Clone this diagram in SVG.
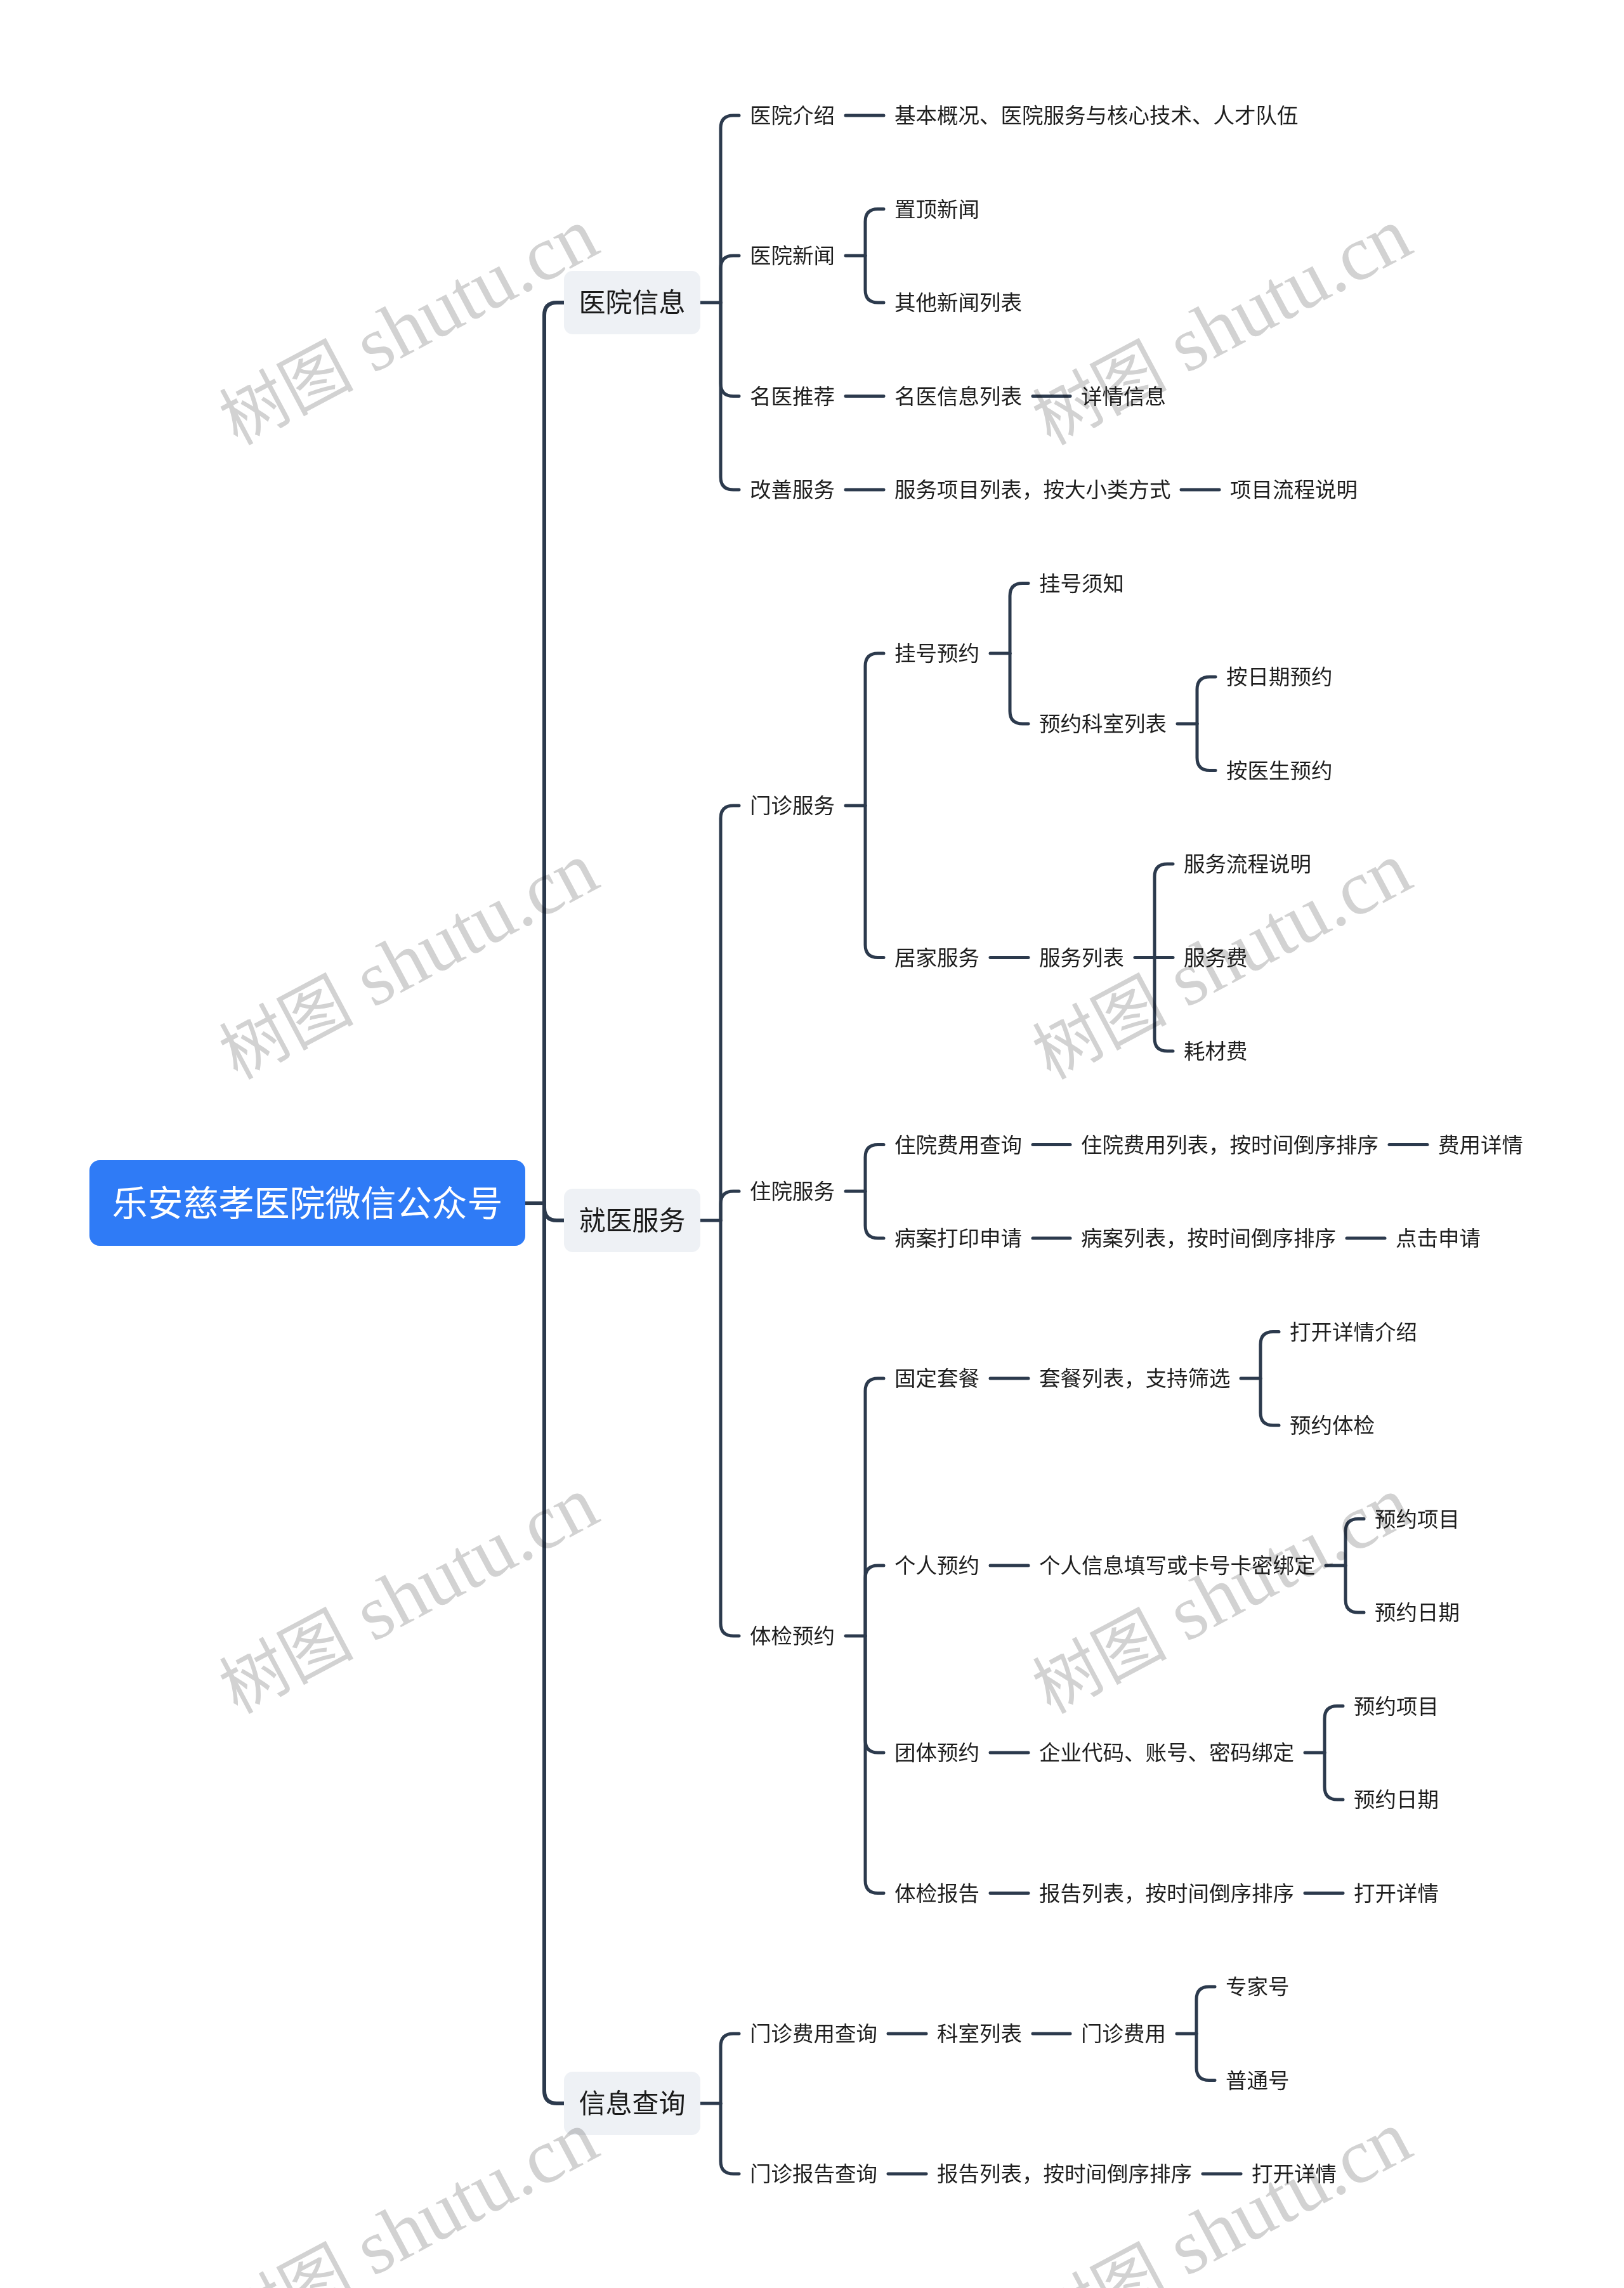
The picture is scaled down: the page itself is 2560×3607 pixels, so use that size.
<svg xmlns="http://www.w3.org/2000/svg" width="2560" height="3607" viewBox="0 0 2560 3607">
<style>
.c{fill:none;stroke:#2c3a4d;stroke-width:5;stroke-linecap:round;stroke-linejoin:round}
.c0{fill:none;stroke:#2c3a4d;stroke-width:6;stroke-linecap:round;stroke-linejoin:round}
.t{font-family:"Noto Sans CJK SC","Noto Sans",sans-serif;font-size:33.5px;fill:#1e1e1e}
.t1{font-family:"Noto Sans CJK SC","Noto Sans",sans-serif;font-size:42px;fill:#1a1a1a;text-anchor:middle}
.t0{font-family:"Noto Sans CJK SC","Noto Sans",sans-serif;font-size:56px;fill:#ffffff;text-anchor:middle}
.n1{fill:#eef1f5}
.wm{font-family:"Liberation Serif","Noto Sans CJK SC",serif;font-size:122px;fill:#d2d2d2;text-anchor:middle;mix-blend-mode:multiply}
.wc{font-family:"Noto Sans CJK SC",serif;font-size:106px}
</style>
<rect x="0" y="0" width="2560" height="3607" fill="#ffffff"/>
<g id="connectors">
<path class="c0" d="M828 1897 H858"/>
<path class="c0" d="M858 1897 V497 Q858 477 878 477 H889"/>
<path class="c0" d="M858 1897 V1904 Q858 1924 878 1924 H889"/>
<path class="c0" d="M858 1897 V3296 Q858 3316 878 3316 H889"/>
<path class="c" d="M1104 477 H1136"/>
<path class="c" d="M1136 477 V202 Q1136 182 1156 182 H1165"/>
<path class="c" d="M1136 477 V423 Q1136 403 1156 403 H1165"/>
<path class="c" d="M1136 477 V604.5 Q1136 624.5 1156 624.5 H1165"/>
<path class="c" d="M1136 477 V752 Q1136 772 1156 772 H1165"/>
<path class="c" d="M1333 182 H1393"/>
<path class="c" d="M1333 403 H1364"/>
<path class="c" d="M1364 403 V349.5 Q1364 329.5 1384 329.5 H1393"/>
<path class="c" d="M1364 403 V457 Q1364 477 1384 477 H1393"/>
<path class="c" d="M1333 624.5 H1393"/>
<path class="c" d="M1628 624.5 H1687"/>
<path class="c" d="M1333 772 H1393"/>
<path class="c" d="M1862 772 H1922"/>
<path class="c" d="M1104 1924 H1136"/>
<path class="c" d="M1136 1924 V1290 Q1136 1270 1156 1270 H1165"/>
<path class="c" d="M1136 1924 V1898 Q1136 1878 1156 1878 H1165"/>
<path class="c" d="M1136 1924 V2559 Q1136 2579 1156 2579 H1165"/>
<path class="c" d="M1333 1270 H1364"/>
<path class="c" d="M1364 1270 V1050 Q1364 1030 1384 1030 H1393"/>
<path class="c" d="M1364 1270 V1489.5 Q1364 1509.5 1384 1509.5 H1393"/>
<path class="c" d="M1561 1030 H1592"/>
<path class="c" d="M1592 1030 V939.5 Q1592 919.5 1612 919.5 H1621"/>
<path class="c" d="M1592 1030 V1121 Q1592 1141 1612 1141 H1621"/>
<path class="c" d="M1856 1141 H1887"/>
<path class="c" d="M1887 1141 V1087 Q1887 1067 1907 1067 H1916"/>
<path class="c" d="M1887 1141 V1194.5 Q1887 1214.5 1907 1214.5 H1916"/>
<path class="c" d="M1561 1509.5 H1621"/>
<path class="c" d="M1789 1509.5 H1849"/>
<path class="c" d="M1820 1509.5 V1382 Q1820 1362 1840 1362 H1849"/>
<path class="c" d="M1820 1509.5 V1637 Q1820 1657 1840 1657 H1849"/>
<path class="c" d="M1333 1878 H1364"/>
<path class="c" d="M1364 1878 V1824.5 Q1364 1804.5 1384 1804.5 H1393"/>
<path class="c" d="M1364 1878 V1932 Q1364 1952 1384 1952 H1393"/>
<path class="c" d="M1628 1804.5 H1687"/>
<path class="c" d="M2190 1804.5 H2250"/>
<path class="c" d="M1628 1952 H1687"/>
<path class="c" d="M2123 1952 H2183"/>
<path class="c" d="M1333 2579 H1364"/>
<path class="c" d="M1364 2579 V2193 Q1364 2173 1384 2173 H1393"/>
<path class="c" d="M1364 2579 V2488 Q1364 2468 1384 2468 H1393"/>
<path class="c" d="M1364 2579 V2743 Q1364 2763 1384 2763 H1393"/>
<path class="c" d="M1364 2579 V2964.5 Q1364 2984.5 1384 2984.5 H1393"/>
<path class="c" d="M1561 2173 H1621"/>
<path class="c" d="M1956 2173 H1987"/>
<path class="c" d="M1987 2173 V2119.5 Q1987 2099.5 2007 2099.5 H2016"/>
<path class="c" d="M1987 2173 V2227 Q1987 2247 2007 2247 H2016"/>
<path class="c" d="M1561 2468 H1621"/>
<path class="c" d="M2090 2468 H2121"/>
<path class="c" d="M2121 2468 V2414.5 Q2121 2394.5 2141 2394.5 H2150"/>
<path class="c" d="M2121 2468 V2522 Q2121 2542 2141 2542 H2150"/>
<path class="c" d="M1561 2763 H1621"/>
<path class="c" d="M2057 2763 H2088"/>
<path class="c" d="M2088 2763 V2709.5 Q2088 2689.5 2108 2689.5 H2117"/>
<path class="c" d="M2088 2763 V2817 Q2088 2837 2108 2837 H2117"/>
<path class="c" d="M1561 2984.5 H1621"/>
<path class="c" d="M2057 2984.5 H2117"/>
<path class="c" d="M1104 3316 H1136"/>
<path class="c" d="M1136 3316 V3226 Q1136 3206 1156 3206 H1165"/>
<path class="c" d="M1136 3316 V3407 Q1136 3427 1156 3427 H1165"/>
<path class="c" d="M1400 3206 H1460"/>
<path class="c" d="M1628 3206 H1687"/>
<path class="c" d="M1855 3206 H1886"/>
<path class="c" d="M1886 3206 V3152 Q1886 3132 1906 3132 H1915"/>
<path class="c" d="M1886 3206 V3259.5 Q1886 3279.5 1906 3279.5 H1915"/>
<path class="c" d="M1400 3427 H1460"/>
<path class="c" d="M1896 3427 H1956"/>
</g>
<g id="root"><rect x="141" y="1829" width="687" height="135" rx="16" fill="#2f7bf6"/><text class="t0" x="484.5" y="1917">乐安慈孝医院微信公众号</text></g>
<g id="n-yyxx"><rect class="n1" x="889" y="427" width="215" height="100" rx="14"/><text class="t1" x="996.5" y="492">医院信息</text></g>
<g id="n-jyfw"><rect class="n1" x="889" y="1874" width="215" height="100" rx="14"/><text class="t1" x="996.5" y="1939">就医服务</text></g>
<g id="n-xxcx"><rect class="n1" x="889" y="3266" width="215" height="100" rx="14"/><text class="t1" x="996.5" y="3331">信息查询</text></g>
<g id="n-yyjs"><text class="t" x="1182" y="194">医院介绍</text></g>
<g id="n-jbgk"><text class="t" x="1410" y="194">基本概况、医院服务与核心技术、人才队伍</text></g>
<g id="n-yyxw"><text class="t" x="1182" y="415">医院新闻</text></g>
<g id="n-zdxw"><text class="t" x="1410" y="341.5">置顶新闻</text></g>
<g id="n-qtxw"><text class="t" x="1410" y="489">其他新闻列表</text></g>
<g id="n-mytj"><text class="t" x="1182" y="636.5">名医推荐</text></g>
<g id="n-myxx"><text class="t" x="1410" y="636.5">名医信息列表</text></g>
<g id="n-xqxx"><text class="t" x="1704" y="636.5">详情信息</text></g>
<g id="n-gsfw"><text class="t" x="1182" y="784">改善服务</text></g>
<g id="n-fwxm"><text class="t" x="1410" y="784">服务项目列表，按大小类方式</text></g>
<g id="n-xmlc"><text class="t" x="1939" y="784">项目流程说明</text></g>
<g id="n-mzfw"><text class="t" x="1182" y="1282">门诊服务</text></g>
<g id="n-ghyy"><text class="t" x="1410" y="1042">挂号预约</text></g>
<g id="n-ghxz"><text class="t" x="1638" y="931.5">挂号须知</text></g>
<g id="n-yyks"><text class="t" x="1638" y="1153">预约科室列表</text></g>
<g id="n-arq"><text class="t" x="1933" y="1079">按日期预约</text></g>
<g id="n-ays"><text class="t" x="1933" y="1226.5">按医生预约</text></g>
<g id="n-jjfw"><text class="t" x="1410" y="1521.5">居家服务</text></g>
<g id="n-fwlb"><text class="t" x="1638" y="1521.5">服务列表</text></g>
<g id="n-fwlc"><text class="t" x="1866" y="1374">服务流程说明</text></g>
<g id="n-fwf"><text class="t" x="1866" y="1521.5">服务费</text></g>
<g id="n-hcf"><text class="t" x="1866" y="1669">耗材费</text></g>
<g id="n-zyfw"><text class="t" x="1182" y="1890">住院服务</text></g>
<g id="n-zyfy"><text class="t" x="1410" y="1816.5">住院费用查询</text></g>
<g id="n-zyfylb"><text class="t" x="1704" y="1816.5">住院费用列表，按时间倒序排序</text></g>
<g id="n-fyxq"><text class="t" x="2267" y="1816.5">费用详情</text></g>
<g id="n-badysq"><text class="t" x="1410" y="1964">病案打印申请</text></g>
<g id="n-balb"><text class="t" x="1704" y="1964">病案列表，按时间倒序排序</text></g>
<g id="n-djsq"><text class="t" x="2200" y="1964">点击申请</text></g>
<g id="n-tjyy"><text class="t" x="1182" y="2591">体检预约</text></g>
<g id="n-gdtc"><text class="t" x="1410" y="2185">固定套餐</text></g>
<g id="n-tclb"><text class="t" x="1638" y="2185">套餐列表，支持筛选</text></g>
<g id="n-dkxqjs"><text class="t" x="2033" y="2111.5">打开详情介绍</text></g>
<g id="n-yytj"><text class="t" x="2033" y="2259">预约体检</text></g>
<g id="n-gryy"><text class="t" x="1410" y="2480">个人预约</text></g>
<g id="n-grxx"><text class="t" x="1638" y="2480">个人信息填写或卡号卡密绑定</text></g>
<g id="n-yyxm1"><text class="t" x="2167" y="2406.5">预约项目</text></g>
<g id="n-yyrq1"><text class="t" x="2167" y="2554">预约日期</text></g>
<g id="n-ttyy"><text class="t" x="1410" y="2775">团体预约</text></g>
<g id="n-qydm"><text class="t" x="1638" y="2775">企业代码、账号、密码绑定</text></g>
<g id="n-yyxm2"><text class="t" x="2134" y="2701.5">预约项目</text></g>
<g id="n-yyrq2"><text class="t" x="2134" y="2849">预约日期</text></g>
<g id="n-tjbg"><text class="t" x="1410" y="2996.5">体检报告</text></g>
<g id="n-bglb1"><text class="t" x="1638" y="2996.5">报告列表，按时间倒序排序</text></g>
<g id="n-dkxq1"><text class="t" x="2134" y="2996.5">打开详情</text></g>
<g id="n-mzfycx"><text class="t" x="1182" y="3218">门诊费用查询</text></g>
<g id="n-kslb"><text class="t" x="1477" y="3218">科室列表</text></g>
<g id="n-mzfy"><text class="t" x="1704" y="3218">门诊费用</text></g>
<g id="n-zjh"><text class="t" x="1932" y="3144">专家号</text></g>
<g id="n-pth"><text class="t" x="1932" y="3291.5">普通号</text></g>
<g id="n-mzbgcx"><text class="t" x="1182" y="3439">门诊报告查询</text></g>
<g id="n-bglb2"><text class="t" x="1477" y="3439">报告列表，按时间倒序排序</text></g>
<g id="n-dkxq2"><text class="t" x="1973" y="3439">打开详情</text></g>
<g id="watermarks">
<text class="wm" transform="translate(644 516) rotate(-28)" y="38"><tspan class="wc">树图</tspan> shutu.cn</text>
<text class="wm" transform="translate(1926 516) rotate(-28)" y="38"><tspan class="wc">树图</tspan> shutu.cn</text>
<text class="wm" transform="translate(644 1516) rotate(-28)" y="38"><tspan class="wc">树图</tspan> shutu.cn</text>
<text class="wm" transform="translate(1926 1516) rotate(-28)" y="38"><tspan class="wc">树图</tspan> shutu.cn</text>
<text class="wm" transform="translate(644 2516) rotate(-28)" y="38"><tspan class="wc">树图</tspan> shutu.cn</text>
<text class="wm" transform="translate(1926 2516) rotate(-28)" y="38"><tspan class="wc">树图</tspan> shutu.cn</text>
<text class="wm" transform="translate(644 3516) rotate(-28)" y="38"><tspan class="wc">树图</tspan> shutu.cn</text>
<text class="wm" transform="translate(1926 3516) rotate(-28)" y="38"><tspan class="wc">树图</tspan> shutu.cn</text>
</g>
</svg>
